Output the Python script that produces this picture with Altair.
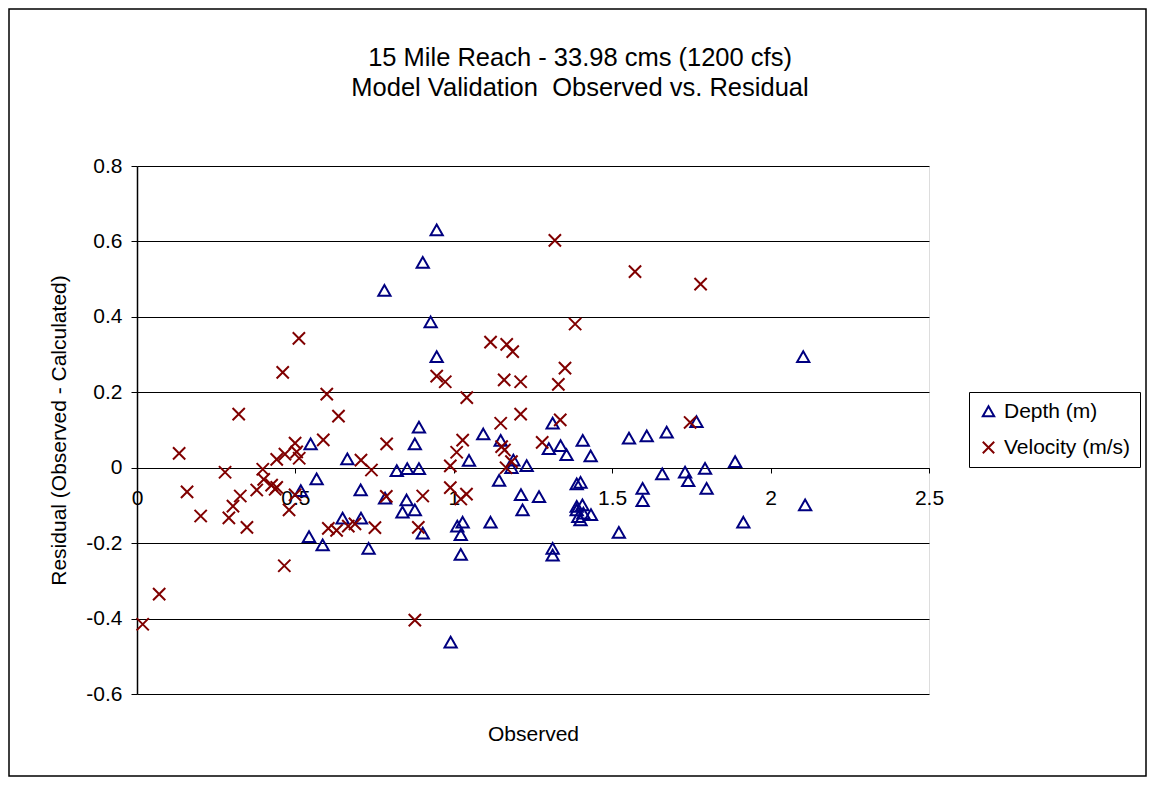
import altair as alt
import pandas as pd

# Depth (m): observed, residual
depth_x = [0.781, 0.902, 0.946, 0.927, 0.946, 2.103, 2.109, 0.890, 0.877, 1.312,
           1.093, 1.148, 1.300, 1.337, 1.407, 1.553, 1.609, 1.672, 1.766, 1.888,
           1.356, 1.432, 1.048, 1.188, 1.230, 1.182, 0.548, 0.664, 0.567, 0.517,
           0.706, 0.820, 0.853, 0.890, 0.783, 0.851, 0.838, 0.877, 0.649, 0.707,
           0.543, 0.586, 0.731, 1.143, 1.388, 1.400, 1.212, 1.269, 1.217, 1.388,
           1.406, 1.393, 1.409, 1.400, 1.433, 1.388, 0.902, 1.011, 1.028, 1.022,
           1.116, 1.521, 1.022, 1.312, 1.312, 0.990, 1.658, 1.730, 1.793, 1.740,
           1.596, 1.798, 1.596, 1.914]
depth_y = [0.470, 0.544, 0.630, 0.386, 0.294, 0.294, -0.099, 0.107, 0.063, 0.118,
           0.089, 0.072, 0.050, 0.058, 0.072, 0.078, 0.084, 0.094, 0.122, 0.016,
           0.034, 0.031, 0.019, 0.020, 0.005, 0.000, 0.063, 0.023, -0.030, -0.061,
           -0.059, -0.008, -0.003, -0.003, -0.081, -0.086, -0.118, -0.112, -0.134, -0.134,
           -0.183, -0.205, -0.214, -0.034, -0.043, -0.039, -0.072, -0.077, -0.112, -0.103,
           -0.099, -0.130, -0.121, -0.139, -0.125, -0.112, -0.174, -0.155, -0.145, -0.178,
           -0.145, -0.172, -0.230, -0.214, -0.232, -0.463, -0.017, -0.012, -0.002, -0.035,
           -0.055, -0.055, -0.088, -0.145]

# Velocity (m/s): observed, residual
vel_x = [0.018, 0.070, 0.133, 0.158, 0.201, 0.278, 0.290, 0.303, 0.326, 0.347,
         0.321, 0.397, 0.400, 0.378, 0.425, 0.436, 0.441, 0.441, 0.467, 0.499,
         0.504, 0.512, 0.588, 0.480, 0.499, 0.465, 0.460, 0.511, 0.599, 0.636,
         0.604, 0.630, 0.667, 0.688, 0.751, 0.707, 0.740, 0.787, 0.788, 0.888,
         0.902, 0.877, 0.946, 0.973, 0.989, 0.989, 1.009, 1.028, 1.041, 1.040,
         1.022, 1.116, 1.167, 1.186, 1.148, 1.159, 1.211, 1.211, 1.151, 1.160,
         1.182, 1.165, 1.279, 1.319, 1.383, 1.351, 1.330, 1.336, 1.572, 1.779,
         1.746]
vel_y = [-0.415, -0.335, 0.038, -0.064, -0.128, -0.012, -0.133, -0.102, -0.075, -0.158,
         0.142, -0.004, -0.031, -0.059, -0.046, -0.057, -0.052, 0.022, 0.036, 0.065,
         0.042, 0.025, 0.074, -0.112, -0.072, -0.260, 0.253, 0.343, 0.195, 0.137,
         -0.161, -0.166, -0.155, -0.149, -0.159, 0.020, -0.006, -0.076, 0.063, -0.158,
         -0.075, -0.404, 0.243, 0.228, 0.005, -0.053, 0.041, 0.073, 0.186, -0.070,
         -0.083, 0.333, 0.327, 0.308, 0.118, 0.233, 0.228, 0.142, 0.056, 0.047,
         0.016, 0.000, 0.067, 0.603, 0.381, 0.264, 0.221, 0.127, 0.520, 0.487,
         0.120]

series = ["Depth (m)", "Velocity (m/s)"]
x_ticks = [0, 0.5, 1, 1.5, 2, 2.5]
y_ticks = [-0.6, -0.4, -0.2, 0, 0.2, 0.4, 0.6, 0.8]

df = pd.concat([
    pd.DataFrame({"Observed": depth_x, "Residual": depth_y, "Series": series[0]}),
    pd.DataFrame({"Observed": vel_x, "Residual": vel_y, "Series": series[1]}),
], ignore_index=True)

FONT = "Liberation Sans"
TRI = "M0,-0.9L1,0.85L-1,0.85Z"
CROSS = "M-1,-1L1,1M-1,1L1,-1"

W, H = 792, 528
PAD_L, PAD_T = 129, 158
TOTAL_W, TOTAL_H = 1139, 769

points = alt.Chart(df).mark_point(filled=False, strokeWidth=2, size=150, opacity=1).encode(
    x=alt.X("Observed:Q",
            scale=alt.Scale(domain=[0, 2.5], nice=False, zero=False),
            axis=alt.Axis(values=x_ticks, format="~g", grid=False, offset=-226,
                          domainColor="black", domainWidth=1, tickColor="black", tickSize=5,
                          labelFontSize=21, labelFont=FONT, labelColor="black", labelPadding=14,
                          labelFlush=False,
                          title="Observed", titleFontSize=21, titleFont=FONT,
                          titleFontWeight="normal", titleColor="black", titleY=266,
                          titleBaseline="middle")),
    y=alt.Y("Residual:Q",
            scale=alt.Scale(domain=[-0.6, 0.8], nice=False, zero=False),
            axis=alt.Axis(values=y_ticks,
                          labelExpr="datum.value == 0 ? '0' : replace(format(datum.value, '.1f'), '\u2212', '-')",
                          grid=True, gridColor="black", gridWidth=1,
                          domainColor="black", domainWidth=1.5, tickColor="black", tickSize=6,
                          labelFontSize=21, labelFont=FONT, labelColor="black", labelPadding=9,
                          title="Residual (Observed - Calculated)", titleFontSize=21, titleFont=FONT,
                          titleFontWeight="normal", titleColor="black", titlePadding=16)),
    color=alt.Color("Series:N", scale=alt.Scale(domain=series, range=["#000080", "#800000"]),
                    legend=alt.Legend(title=None, orient="none", legendX=832, legendY=226,
                                      strokeColor="black", fillColor="white", padding=9,
                                      labelFontSize=21, labelFont=FONT, labelColor="black",
                                      symbolSize=130, symbolStrokeWidth=2, rowPadding=14,
                                      labelOffset=5)),
    shape=alt.Shape("Series:N", scale=alt.Scale(domain=series, range=[TRI, CROSS]), legend=None),
    order=alt.Order("Series:N"),
)

frame = alt.Chart(pd.DataFrame({"k": [0]})).mark_rect(
    fill=None, stroke="black", strokeWidth=1.5, clip=False
).encode(
    x=alt.value(-PAD_L + 1), x2=alt.value(TOTAL_W - PAD_L - 1),
    y=alt.value(-PAD_T + 1), y2=alt.value(TOTAL_H - PAD_T - 1),
)

chart = alt.layer(points, frame).properties(
    width=W, height=H,
    autosize=alt.AutoSizeParams(type="none"),
    padding={"left": PAD_L, "top": PAD_T, "right": TOTAL_W - PAD_L - W, "bottom": TOTAL_H - PAD_T - H},
    title=alt.TitleParams(
        text=["15 Mile Reach - 33.98 cms (1200 cfs)", "Model Validation\u00a0 Observed vs. Residual"],
        fontSize=25.5, font=FONT, fontWeight="normal", color="black", anchor="middle",
        dx=47, dy=93, offset=0, lineHeight=30,
    ),
).configure_view(stroke="#808080", strokeWidth=1.5).configure(background="white")

chart.save("out.html", embed_options={"renderer": "svg", "actions": False})
